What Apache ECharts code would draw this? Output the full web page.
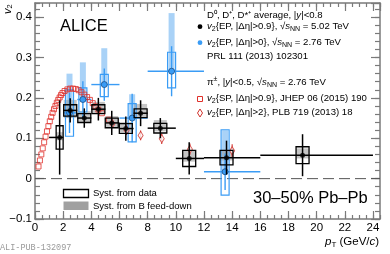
<!DOCTYPE html>
<html><head><meta charset="utf-8">
<script src="https://cdn.jsdelivr.net/npm/echarts@6/dist/echarts.min.js"></script>
<style>html,body{margin:0;padding:0;background:#fff}#c{width:390px;height:254px}</style>
</head><body><div id="c"></div>
<script>
// ---- axis ranges / ticks ----
const xRange = [0, 24.5];
const yRange = [-0.1, 0.435];

// ---- ALICE D mesons, 5.02 TeV (black) ----
const dX     = [1.75, 2.5, 3.5, 4.5, 5.45, 6.45, 7.5, 8.9, 10.95, 13.6, 19.0];
const dV     = [0.102, 0.169, 0.150, 0.172, 0.138, 0.124, 0.162, 0.125, 0.050, 0.052, 0.058];
const dStat  = [0.092, 0.030, 0.024, 0.028, 0.030, 0.030, 0.032, 0.025, 0.040, 0.042, 0.052];
const dSys   = [0.029, 0.014, 0.011, 0.011, 0.012, 0.012, 0.011, 0.012, 0.020, 0.018, 0.021];
const dFdLo  = [0.095, 0.150, 0.140, 0.160, 0.128, 0.115, 0.152, 0.117, 0.042, 0.045, 0.050];
const dFdHi  = [0.115, 0.195, 0.167, 0.190, 0.155, 0.140, 0.185, 0.145, 0.070, 0.070, 0.075];
const dBinLo = [1, 2, 3, 4, 5, 6, 7, 8, 10, 12, 16];
const dBinHi = [2, 3, 4, 5, 6, 7, 8, 10, 12, 16, 24];

// ---- ALICE D mesons, 2.76 TeV (blue) ----
const bX     = [2.45, 3.4, 4.92, 6.9, 9.7, 13.5];
const bV     = [0.163, 0.196, 0.233, 0.150, 0.266, 0.017];
const bStat  = [0.050, 0.045, 0.040, 0.060, 0.062, 0.045];
const bSysLo = [0.105, 0.165, 0.203, 0.091, 0.225, -0.041];
const bSysHi = [0.220, 0.225, 0.258, 0.186, 0.313, 0.121];
const bFdLo  = [0.150, 0.190, 0.230, 0.150, 0.266, 0.017];
const bFdHi  = [0.260, 0.288, 0.323, 0.209, 0.410, 0.120];
const bBinLo = [2, 3, 4, 6, 8, 12];
const bBinHi = [3, 4, 6, 8, 12, 16];

// ---- pions SP (red squares) ----
const piX = [0.25,0.35,0.45,0.55,0.65,0.75,0.85,0.95,1.05,1.15,1.25,1.35,1.45,1.55,1.65,1.75,1.85,1.95,2.1,2.3,2.5,2.7,2.9,3.1,3.3,3.5,3.7,3.9,4.1,4.3,4.5,4.75,5.25];
const piV = [0.030,0.045,0.060,0.075,0.090,0.104,0.117,0.130,0.142,0.153,0.163,0.172,0.180,0.188,0.195,0.201,0.207,0.212,0.217,0.221,0.223,0.223,0.222,0.219,0.214,0.208,0.202,0.195,0.187,0.179,0.171,0.162,0.146];

// ---- pions EP |dEta|>2 (red diamonds) ----
const peX    = [5.5, 6.5, 7.5, 9.0, 11.0, 14.0];
const peV    = [0.136, 0.120, 0.107, 0.099, 0.073, 0.069];
const peStat = [0.010, 0.012, 0.012, 0.013, 0.014, 0.016];

const FONT = 'Liberation Sans, Arial, sans-serif';
const BLUE = '#3a9cf5', LBLUE = '#a9d2f7', RED = '#e0302a', GRAY = '#8c8c8c';
const LF = 9.6;

function rectRender(halfPx, style) {
  return function (params, api) {
    const x = api.value(0), lo = api.value(1), hi = api.value(2);
    const p1 = api.coord([x, hi]), p2 = api.coord([x, lo]);
    const hw = typeof halfPx === 'function' ? halfPx(params.dataIndex) : halfPx;
    return { type: 'rect', shape: { x: p1[0] - hw, y: p1[1], width: 2 * hw, height: p2[1] - p1[1] }, style: style };
  };
}
function errRender(color, width, withH) {
  return function (params, api) {
    const x = api.value(0), v = api.value(1), lo = api.value(2), hi = api.value(3);
    const a = api.coord([x, hi]), b = api.coord([x, lo]);
    const ch = [{ type: 'line', shape: { x1: a[0], y1: a[1], x2: b[0], y2: b[1] }, style: { stroke: color, lineWidth: width } }];
    if (withH) {
      const l = api.coord([api.value(4), v]), r = api.coord([api.value(5), v]);
      ch.push({ type: 'line', shape: { x1: l[0], y1: l[1], x2: r[0], y2: r[1] }, style: { stroke: color, lineWidth: width } });
    }
    return { type: 'group', children: ch };
  };
}

const dFd   = dX.map((x, i) => [x, dFdLo[i], dFdHi[i]]);
const dBox  = dX.map((x, i) => [x, dV[i] - dSys[i], dV[i] + dSys[i]]);
const dErr  = dX.map((x, i) => [x, dV[i], dV[i] - dStat[i], dV[i] + dStat[i], dBinLo[i], dBinHi[i]]);
const bFd   = bX.map((x, i) => [x, bFdLo[i], bFdHi[i]]);
const bBox  = bX.map((x, i) => [x, bSysLo[i], bSysHi[i]]);
const bErr  = bX.map((x, i) => [x, bV[i], bV[i] - bStat[i], bV[i] + bStat[i], bBinLo[i], bBinHi[i]]);
const peErr = peX.map((x, i) => [x, peV[i], peV[i] - peStat[i], peV[i] + peStat[i]]);

const axCol = '#7a7a7a';
function xAx(pos, interval, len, labels, line) {
  return { type: 'value', position: pos, min: xRange[0], max: xRange[1], interval: interval,
    axisLine: { show: line, onZero: false, lineStyle: { color: axCol, width: 1.5 } },
    axisTick: { show: true, inside: true, length: len, lineStyle: { color: axCol, width: 1.2 } },
    axisLabel: { show: labels, color: '#000', fontSize: 11.5, fontFamily: FONT, margin: 3, showMaxLabel: false,
      formatter: v => (Math.abs(v % 2) < 1e-6 && v <= 24 ? String(v) : '') },
    splitLine: { show: false } };
}
function yAx(pos, interval, len, labels, line) {
  return { type: 'value', position: pos, min: yRange[0], max: yRange[1], interval: interval,
    axisLine: { show: line, onZero: false, lineStyle: { color: axCol, width: 1.5 } },
    axisTick: { show: true, inside: true, length: len, lineStyle: { color: axCol, width: 1.2 } },
    axisLabel: { show: labels, color: '#000', fontSize: 11.5, fontFamily: FONT, margin: 3, showMaxLabel: false,
      formatter: v => (Math.abs(v) < 1e-9 ? '0' : (v < 0 ? '\u2212' : '') + Math.abs(v).toFixed(1)) },
    splitLine: { show: false } };
}

const richBase = {
  i: { fontStyle: 'italic', fontSize: LF, fontFamily: FONT, fill: '#000' },
  sub: { fontSize: 7, fontFamily: FONT, verticalAlign: 'bottom', lineHeight: 8 },
  sup: { fontSize: 7, fontFamily: FONT, verticalAlign: 'top', lineHeight: 8 }
};
function txt(x, y, text, size, extra) {
  return Object.assign({ type: 'text', left: x, top: y, z: 100,
    style: Object.assign({ text: text, fontSize: size || LF, fontFamily: FONT, fill: '#000', rich: richBase, lineHeight: 13 }, extra || {}) });
}

const chart = echarts.init(document.getElementById('c'), null, { renderer: 'canvas' });
chart.setOption({
  animation: false,
  grid: { left: 35, right: 10, top: 3, bottom: 35, containLabel: false },
  xAxis: [xAx('bottom', 2, 8, true, true), xAx('bottom', 0.5, 4, false, false), xAx('top', 2, 8, false, true), xAx('top', 0.5, 4, false, false)],
  yAxis: [yAx('left', 0.1, 9, true, true), yAx('left', 0.02, 5, false, false), yAx('right', 0.1, 9, false, true), yAx('right', 0.02, 5, false, false)],
  series: [
    { type: 'line', data: [[xRange[0], 0], [xRange[1], 0]], symbol: 'none', silent: true,
      lineStyle: { color: '#555', width: 1, type: [11, 5] }, z: 1 },
    { type: 'custom', data: bFd, renderItem: rectRender(3, { fill: LBLUE }), clip: true, z: 2 },
    { type: 'custom', data: dFd, renderItem: rectRender(i => (i === 0 ? 3.5 : 6.5), { fill: 'rgba(150,150,150,0.55)' }), clip: true, z: 2 },
    { type: 'custom', data: bBox, renderItem: rectRender(4, { fill: 'none', stroke: BLUE, lineWidth: 1.2 }), clip: true, z: 3 },
    { type: 'custom', data: bErr, renderItem: errRender(BLUE, 1.4, true), clip: true, z: 3 },
    { type: 'scatter', data: piX.map((x, i) => [x, piV[i]]), symbol: 'rect', symbolSize: 5,
      itemStyle: { color: 'rgba(255,255,255,0)', borderColor: RED, borderWidth: 1 }, z: 4 },
    { type: 'custom', data: peErr, renderItem: errRender('#d0302a', 1.1, false), clip: true, z: 4 },
    { type: 'scatter', data: peX.map((x, i) => [x, peV[i]]), symbol: 'diamond', symbolSize: [5, 8],
      itemStyle: { color: '#fff', borderColor: '#d0302a', borderWidth: 1 }, z: 5 },
    { type: 'custom', data: bX.map((x, i) => [x, bV[i]]), z: 5, renderItem: function (p, api) {
        const c = api.coord([api.value(0), api.value(1)]);
        return { type: 'circle', shape: { cx: c[0], cy: c[1], r: 3 }, style: { fill: BLUE, stroke: '#1d4f86', lineWidth: 0.8 } };
      } },
    { type: 'custom', data: dBox, renderItem: rectRender(i => (i === 0 ? 3.5 : 6.5), { fill: 'none', stroke: '#000', lineWidth: 1.3 }), clip: true, z: 6 },
    { type: 'custom', data: dErr, renderItem: errRender('#000', 1.5, true), clip: true, z: 6 },
    { type: 'scatter', data: dX.map((x, i) => [x, dV[i]]), symbol: 'circle', symbolSize: 5,
      itemStyle: { color: '#000' }, z: 7 }
  ],
  graphic: [
    txt(60, 18, 'ALICE', 16.5),
    txt(253, 190, '30\u201350% Pb\u2013Pb', 16.5),
    txt(207, 9, 'D\u2070, D\u207A, D*\u207A average, |{i|y}|<0.8'),
    txt(207, 20, '{i|v}{sub|2}{EP, |\u0394\u03B7|>0.9}, \u221A{i|s}{sub|NN} = 5.02 TeV'),
    txt(207, 36, '{i|v}{sub|2}{EP, |\u0394\u03B7|>0}, \u221A{i|s}{sub|NN} = 2.76 TeV'),
    txt(207, 50, 'PRL 111 (2013) 102301'),
    txt(207, 76, '\u03C0{sup|\u00B1}, |{i|y}|<0.5, \u221A{i|s}{sub|NN} = 2.76 TeV'),
    txt(207, 92, '{i|v}{sub|2}{SP, |\u0394\u03B7|>0.9}, JHEP 06 (2015) 190'),
    txt(207, 106, '{i|v}{sub|2}{EP, |\u0394\u03B7|>2}, PLB 719 (2013) 18'),
    txt(93, 187, 'Syst. from data', 9.5),
    txt(93, 199.5, 'Syst. from B feed-down', 9.5),
    { type: 'circle', shape: { cx: 200, cy: 26.7, r: 2.4 }, style: { fill: '#000' }, z: 100 },
    { type: 'circle', shape: { cx: 200, cy: 42.7, r: 2.4 }, style: { fill: BLUE }, z: 100 },
    { type: 'rect', shape: { x: 197.5, y: 96.5, width: 5, height: 5 }, style: { fill: 'none', stroke: RED, lineWidth: 1 }, z: 100 },
    { type: 'polygon', shape: { points: [[200, 109], [202.5, 113], [200, 117], [197.5, 113]] }, style: { fill: 'none', stroke: '#d0302a', lineWidth: 1 }, z: 100 },
    { type: 'rect', shape: { x: 63.5, y: 189.5, width: 25, height: 8 }, style: { fill: '#fff', stroke: '#000', lineWidth: 1.3 }, z: 100 },
    { type: 'rect', shape: { x: 63.5, y: 201.5, width: 25, height: 8.5 }, style: { fill: '#a0a0a0' }, z: 100 },
    { type: 'text', left: 325, top: 235, z: 100, style: { text: '{pi|p}{sub|T} (GeV/{pi|c})', fontSize: 11.5, fontFamily: FONT, fill: '#000',
      rich: { pi: { fontStyle: 'italic', fontSize: 11.5, fontFamily: FONT }, sub: { fontSize: 8, fontFamily: FONT, verticalAlign: 'bottom', lineHeight: 9 } }, lineHeight: 14 } },
    { type: 'text', x: 2, y: 14, rotation: Math.PI / 2, z: 100, style: { text: '{pi|v}{sub|2}', fontSize: 11, fontFamily: FONT, fill: '#000',
      rich: { pi: { fontStyle: 'italic', fontSize: 11, fontFamily: FONT }, sub: { fontSize: 7.5, fontFamily: FONT, verticalAlign: 'bottom', lineHeight: 8 } }, lineHeight: 12 } },
    { type: 'text', left: 0, top: 243, z: 100, style: { text: 'ALI-PUB-132097', fontSize: 8.5, fontFamily: 'Liberation Mono, DejaVu Sans Mono, monospace', fill: '#9a9a9a' } }
  ]
});
</script></body></html>
